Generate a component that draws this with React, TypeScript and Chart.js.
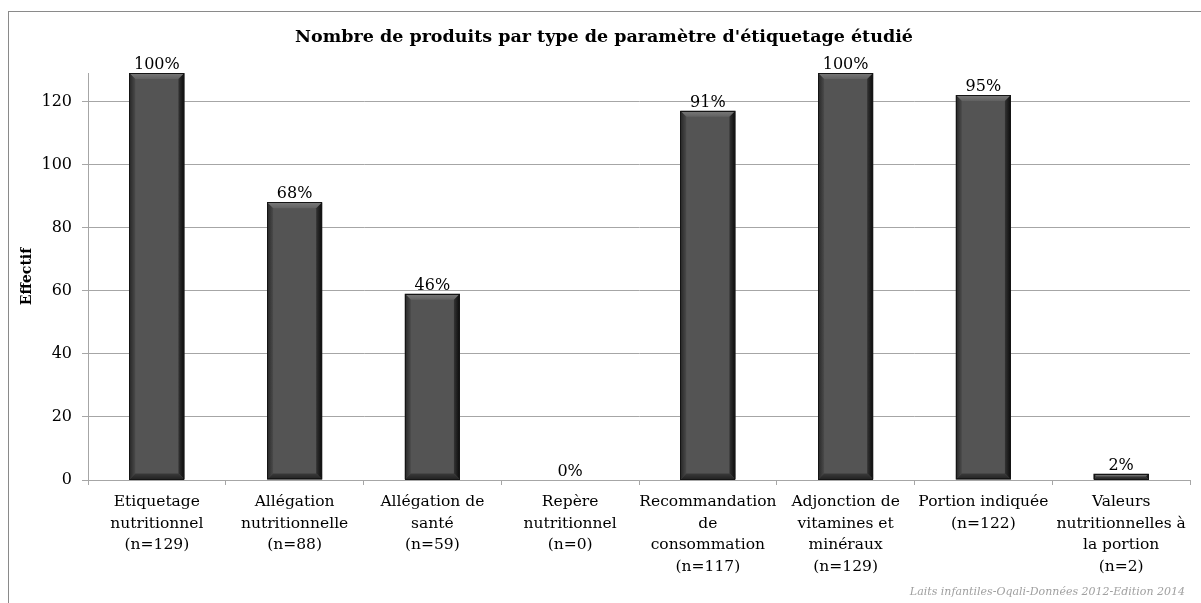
import React, { useEffect, useRef } from "react";
import { Chart, registerables } from "chart.js";

Chart.register(...registerables);

const categories: string[][] = [
  ["Etiquetage", "nutritionnel", "(n=129)"],
  ["Allégation", "nutritionnelle", "(n=88)"],
  ["Allégation de", "santé", "(n=59)"],
  ["Repère", "nutritionnel", "(n=0)"],
  ["Recommandation", "de", "consommation", "(n=117)"],
  ["Adjonction de", "vitamines et", "minéraux", "(n=129)"],
  ["Portion indiquée", "(n=122)"],
  ["Valeurs", "nutritionnelles à", "la portion", "(n=2)"],
];
const counts: number[] = [129, 88, 59, 0, 117, 129, 122, 2];
const percentLabels: string[] = ["100%", "68%", "46%", "0%", "91%", "100%", "95%", "2%"];
const yTicks: number[] = [0, 20, 40, 60, 80, 100, 120];

const titleText = "Nombre de produits par type de paramètre d'étiquetage étudié";
const yTitle = "Effectif";
const sourceText = "Laits infantiles-Oqali-Données 2012-Edition 2014";

const SERIF = "'DejaVu Serif', serif";

const decorPlugin = {
  id: "decor",
  afterDatasetsDraw(chart: any) {
    const ctx = chart.ctx;
    const meta = chart.getDatasetMeta(0);
    meta.data.forEach((el: any, i: number) => {
      const { x, y, base, width } = el.getProps(["x", "y", "base", "width"], true);
      const l = x - width / 2;
      const r = x + width / 2;
      const t = Math.min(y, base);
      const b = Math.max(y, base);
      const h = b - t;
      if (h > 0.5) {
        const bv = Math.min(6, h / 2);
        ctx.save();
        // top bevel
        const gt = ctx.createLinearGradient(0, t, 0, t + bv);
        gt.addColorStop(0, "#7a7a7a");
        gt.addColorStop(1, "#606060");
        ctx.fillStyle = gt;
        ctx.beginPath();
        ctx.moveTo(l, t); ctx.lineTo(r, t); ctx.lineTo(r - bv, t + bv); ctx.lineTo(l + bv, t + bv); ctx.closePath(); ctx.fill();
        // left bevel
        const gl = ctx.createLinearGradient(l, 0, l + bv, 0);
        gl.addColorStop(0, "#262626");
        gl.addColorStop(1, "#4a4a4a");
        ctx.fillStyle = gl;
        ctx.beginPath();
        ctx.moveTo(l, t); ctx.lineTo(l + bv, t + bv); ctx.lineTo(l + bv, b - bv); ctx.lineTo(l, b); ctx.closePath(); ctx.fill();
        // right bevel
        const gr = ctx.createLinearGradient(r - bv, 0, r, 0);
        gr.addColorStop(0, "#333333");
        gr.addColorStop(1, "#0a0a0a");
        ctx.fillStyle = gr;
        ctx.beginPath();
        ctx.moveTo(r, t); ctx.lineTo(r - bv, t + bv); ctx.lineTo(r - bv, b - bv); ctx.lineTo(r, b); ctx.closePath(); ctx.fill();
        // bottom bevel
        const gb = ctx.createLinearGradient(0, b - bv, 0, b);
        gb.addColorStop(0, "#3a3a3a");
        gb.addColorStop(1, "#222222");
        ctx.fillStyle = gb;
        ctx.beginPath();
        ctx.moveTo(l, b); ctx.lineTo(r, b); ctx.lineTo(r - bv, b - bv); ctx.lineTo(l + bv, b - bv); ctx.closePath(); ctx.fill();
        // outline
        ctx.strokeStyle = "#151515";
        ctx.lineWidth = 1;
        ctx.strokeRect(Math.round(l) + 0.5, Math.round(t) + 0.5, Math.round(r - l) - 1, Math.round(h) - 1);
        ctx.restore();
      }
      // percent label
      ctx.save();
      ctx.fillStyle = "#000";
      ctx.font = `16px ${SERIF}`;
      ctx.textAlign = "center";
      ctx.textBaseline = "alphabetic";
      ctx.fillText(percentLabels[i], x, t - 4);
      ctx.restore();
    });
  },
  afterDraw(chart: any) {
    const ctx = chart.ctx;
    const area = chart.chartArea;
    ctx.save();
    ctx.fillStyle = "#000";
    ctx.font = `bold 17.5px ${SERIF}`;
    ctx.textAlign = "center";
    ctx.textBaseline = "middle";
    ctx.fillText(titleText, 604, 37);
    // y axis title
    ctx.save();
    ctx.translate(27, (area.top + area.bottom) / 2);
    ctx.rotate(-Math.PI / 2);
    ctx.font = `bold 14px ${SERIF}`;
    ctx.textAlign = "center";
    ctx.textBaseline = "middle";
    ctx.fillText(yTitle, 0, 0);
    ctx.restore();
    ctx.font = `italic 11px ${SERIF}`;
    ctx.fillStyle = "#a0a0a0";
    ctx.textAlign = "right";
    ctx.textBaseline = "middle";
    ctx.fillText(sourceText, 1185, 592);
    ctx.restore();
  },
};

export default function App() {
  const ref = useRef<HTMLCanvasElement | null>(null);
  useEffect(() => {
    if (!ref.current) return;
    const chart = new Chart(ref.current, {
      type: "bar",
      data: {
        labels: categories,
        datasets: [
          {
            data: counts,
            backgroundColor: "#545454",
            borderWidth: 0,
            categoryPercentage: 1,
            barPercentage: 0.4,
          },
        ],
      },
      options: {
        animation: false,
        responsive: false,
        maintainAspectRatio: false,
        layout: { padding: { top: 73, right: 11, left: 0, bottom: 0 } },
        plugins: {
          legend: { display: false },
          title: { display: false },
          tooltip: { enabled: false },
        },
        scales: {
          x: {
            afterFit(scale: any) {
              scale.height = 123;
            },
            grid: {
              offset: true,
              drawOnChartArea: false,
              drawTicks: true,
              tickLength: 5,
              color: "#a6a6a6",
            },
            border: { display: true, color: "#a6a6a6" },
            ticks: {
              color: "#000",
              font: { family: SERIF, size: 15.5, lineHeight: 1.4 },
              padding: 6,
              maxRotation: 0,
              autoSkip: false,
            },
          },
          y: {
            min: 0,
            max: 129,
            afterFit(scale: any) {
              scale.width = 88;
            },
            afterBuildTicks(scale: any) {
              scale.ticks = yTicks.map((v) => ({ value: v }));
            },
            grid: {
              color: "#a6a6a6",
              tickLength: 6,
            },
            border: { display: true, color: "#a6a6a6" },
            ticks: {
              color: "#000",
              font: { family: SERIF, size: 16 },
              padding: 10,
            },
          },
        },
      },
      plugins: [decorPlugin],
    });
    return () => chart.destroy();
  }, []);
  return (
    <div style={{ position: "absolute", left: 0, top: 0, width: 1201, height: 603, overflow: "hidden", background: "#fff" }}>
      <div
        style={{
          position: "absolute",
          left: 8,
          top: 11,
          width: 1300,
          height: 700,
          border: "1px solid #8a8a8a",
          boxSizing: "border-box",
        }}
      />
      <canvas ref={ref} width={1201} height={603} style={{ position: "absolute", left: 0, top: 0, display: "block" }} />
    </div>
  );
}
